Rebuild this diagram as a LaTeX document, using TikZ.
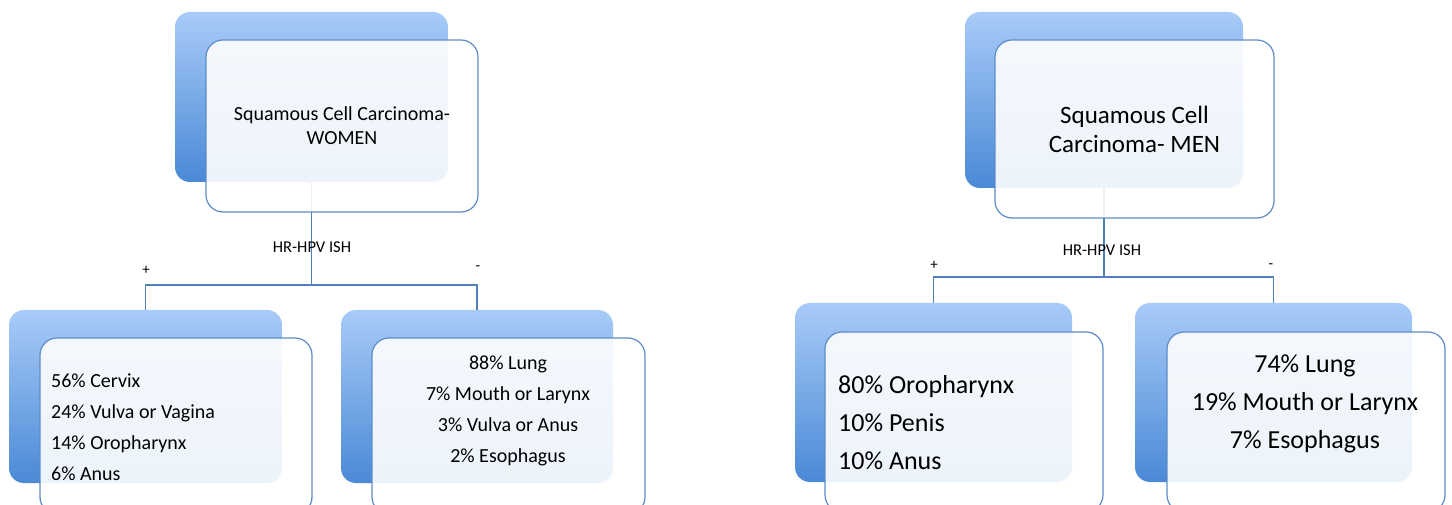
\documentclass[tikz,border=0pt]{standalone}
\usepackage{fontspec}
\setmainfont{Carlito}
\definecolor{lineblue}{HTML}{4F81BD}
\definecolor{edgeblue}{HTML}{5B8CC8}
\definecolor{topblue}{HTML}{A8CBF8}
\definecolor{botblue}{HTML}{4A89D6}
\tikzset{
  backbox/.style={rectangle, rounded corners=15pt, top color=topblue, bottom color=botblue, draw=none, inner sep=0pt},
  frontbox/.style={rectangle, rounded corners=17pt, draw=edgeblue, line width=1.2pt, fill=white, fill opacity=0.9, text opacity=1, inner sep=0pt, align=center},
  conn/.style={draw=lineblue, line width=1.5pt},
  signlbl/.style={font=\fontsize{15}{16}\selectfont, inner sep=0pt},
  testlbl/.style={font=\fontsize{16.5}{18}\selectfont, inner sep=0pt},
  smalllist/.style={font=\fontsize{20}{31}\selectfont, inner sep=0pt},
  biglist/.style={font=\fontsize{26}{38}\selectfont, inner sep=0pt},
}
\begin{document}
\begin{tikzpicture}[x=1pt,y=-1pt]
\useasboundingbox[fill=white] (0,0) rectangle (1452,505);
\clip (0,0) rectangle (1452,505);

% ---------- WOMEN ----------
\node[backbox, minimum width=273pt, minimum height=170pt] (wtb) at (311.5,97) {};
\node[backbox, minimum width=273pt, minimum height=173pt] (wpb) at (145.5,396.5) {};
\node[backbox, minimum width=272pt, minimum height=173pt] (wnb) at (477,396.5) {};

\coordinate (wjun) at (311.5,285);
\draw[conn] (wtb.south) -- (wjun);
\draw[conn] (wpb.north) |- (wjun) -| (wnb.north);

\node[frontbox, minimum width=272pt, minimum height=172pt, font=\fontsize{20}{24}\selectfont] (wtf) at (342,126) {Squamous Cell Carcinoma-\\WOMEN};
\node[frontbox, minimum width=272pt, minimum height=176pt] (wpf) at (176,426) {};
\node[frontbox, minimum width=273pt, minimum height=176pt] (wnf) at (508.5,426) {};

\node[testlbl] (wtest) at (312,247) {HR-HPV ISH};
\node[signlbl] (wplus) at (146,270) {+};
\node[signlbl] (wminus) at (478,268) {-};

\node[smalllist, anchor=west, align=left] (wptext) at (51,427) {56\% Cervix\\24\% Vulva or Vagina\\14\% Oropharynx\\6\% Anus};
\node[smalllist, align=center] (wntext) at (508,411) {88\% Lung\\7\% Mouth or Larynx\\3\% Vulva or Anus\\2\% Esophagus};

% ---------- MEN ----------
\node[backbox, minimum width=278pt, minimum height=176pt] (mtb) at (1104,100) {};
\node[backbox, minimum width=277pt, minimum height=179pt] (mpb) at (933.5,392.5) {};
\node[backbox, minimum width=277pt, minimum height=179pt] (mnb) at (1273.5,392.5) {};

\coordinate (mjun) at (1104,277);
\draw[conn] (mtb.south) -- (mjun);
\draw[conn] (mpb.north) |- (mjun) -| (mnb.north);

\node[frontbox, minimum width=279pt, minimum height=178pt, font=\fontsize{25}{29}\selectfont] (mtf) at (1134.5,129) {Squamous Cell\\Carcinoma- MEN};
\node[frontbox, minimum width=278pt, minimum height=180pt] (mpf) at (964,422) {};
\node[frontbox, minimum width=278pt, minimum height=180pt] (mnf) at (1306,422) {};

\node[testlbl] (mtest) at (1102,250) {HR-HPV ISH};
\node[signlbl] (mplus) at (934,265) {+};
\node[signlbl] (mminus) at (1271,266) {-};

\node[biglist, anchor=west, align=left] (mptext) at (838,423) {80\% Oropharynx\\10\% Penis\\10\% Anus};
\node[biglist, align=center] (mntext) at (1305,404) {74\% Lung\\19\% Mouth or Larynx\\7\% Esophagus};
\end{tikzpicture}
\end{document}
